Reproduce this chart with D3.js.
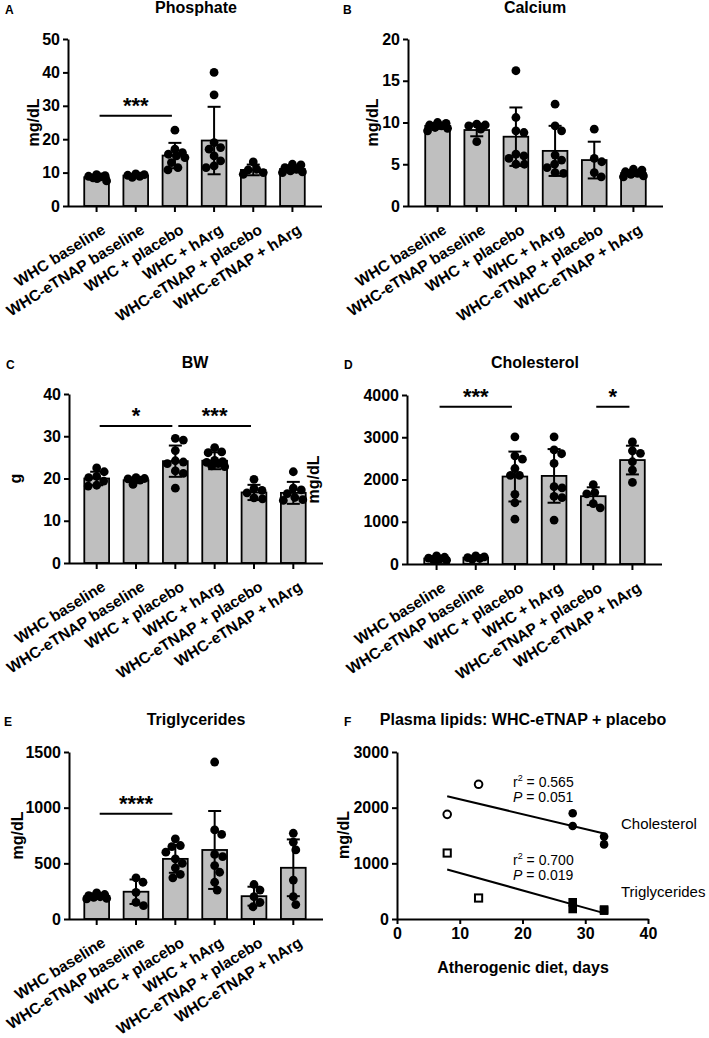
<!DOCTYPE html>
<html><head><meta charset="utf-8">
<script src="https://cdnjs.cloudflare.com/ajax/libs/d3/7.8.5/d3.min.js"></script>
<style>body{margin:0;background:#fff} svg{display:block} text{font-family:Arial,"Liberation Sans",Helvetica,sans-serif;fill:#000}</style>
</head><body><svg id="c" width="709" height="1038"></svg>
<script>
// ---------------- DATA ----------------
const groups = ["WHC baseline","WHC-eTNAP baseline","WHC + placebo","WHC + hArg","WHC-eTNAP + placebo","WHC-eTNAP + hArg"];

const phosMean = [8.6, 9.1, 15.1, 19.6, 10.8, 11.1];
const phosSD   = [0.6, 0.4, 3.8, 10.1, 1.6, 1.0];
const phosDots = [
  [9.4, 9.1, 8.9, 8.7, 8.4, 8.2, 7.5],
  [9.6, 9.4, 9.2, 8.9, 8.6],
  [22.7, 17.0, 16.0, 15.5, 15.0, 14.5, 13.0, 11.5, 10.8],
  [40.0, 33.3, 19.0, 17.5, 17.0, 15.0, 13.5, 12.0, 11.5],
  [13.2, 11.0, 10.8, 10.0, 9.5],
  [12.5, 12.3, 11.5, 11.0, 10.5, 10.2, 10.0]
];
const phosSig = [{a:0, b:2, v:27, label:"***"}];

const caMean = [9.6, 9.1, 8.3, 6.6, 5.5, 3.95];
const caSD   = [0.35, 0.75, 3.5, 3.0, 2.2, 0.35];
const caDots = [
  [10.0, 9.9, 9.7, 9.6, 9.4, 9.3, 9.0],
  [9.8, 9.7, 9.6, 9.2, 7.7],
  [16.2, 10.6, 9.0, 8.8, 6.2, 6.0, 5.7, 5.0, 5.0],
  [12.2, 9.6, 9.0, 6.1, 5.5, 5.0, 4.6, 4.0, 3.9],
  [9.2, 5.7, 5.3, 4.0, 3.5],
  [4.4, 4.3, 4.1, 3.9, 3.8, 3.6, 3.5]
];
const caSig = [];

const bwMean = [20.0, 19.6, 24.1, 24.2, 16.7, 16.6];
const bwSD   = [1.6, 0.6, 3.7, 2.0, 1.8, 2.6];
const bwDots = [
  [22.5, 21.6, 20.5, 20.2, 19.4, 18.4, 18.2],
  [20.2, 20.0, 19.9, 19.6, 18.6],
  [29.5, 29.1, 26.6, 24.2, 23.9, 23.5, 21.8, 21.2, 17.7],
  [27.3, 26.3, 26.1, 24.3, 24.0, 23.8, 23.5, 23.0, 22.8],
  [19.8, 17.6, 17.2, 16.6, 15.4, 15.2],
  [21.6, 17.7, 17.3, 16.4, 15.5, 15.0, 14.8]
];
const bwSig = [{a:0, b:2, v:32.4, label:"*"}, {a:2, b:4, v:32.4, label:"***"}];

const cholMean = [130, 150, 2070, 2085, 1605, 2460];
const cholSD   = [40, 30, 590, 635, 210, 340];
const cholDots = [
  [190, 160, 140, 120, 110, 100, 90],
  [190, 170, 150, 130, 115],
  [3010, 2560, 2480, 2260, 2100, 2100, 1650, 1450, 1060],
  [3010, 2700, 2610, 2380, 1830, 1800, 1600, 1570, 1040],
  [1880, 1690, 1660, 1430, 1330],
  [2890, 2680, 2620, 2420, 2220, 1930]
];
const cholSig = [{a:0, b:2, v:3720, label:"***"}, {a:4, b:5, v:3720, label:"*"}];

const trigMean = [205, 245, 540, 620, 205, 460];
const trigSD   = [25, 110, 125, 350, 85, 255];
const trigDots = [
  [235, 220, 210, 200, 195, 185, 180],
  [370, 330, 240, 150, 120],
  [720, 660, 650, 600, 540, 500, 460, 400, 370],
  [1410, 800, 760, 580, 560, 480, 420, 330, 260],
  [310, 260, 200, 150, 110],
  [770, 690, 620, 350, 200, 130]
];
const trigSig = [{a:0, b:2, v:945, label:"****"}];

// Panel F
const fDays     = [8, 13, 28, 28, 33, 33];
const fOpen     = [true, true, false, false, false, false];
const fChol     = [1880, 2420, 1900, 1670, 1480, 1340];
const fTrig     = [1185, 377, 300, 180, 170, 150];
const fStats    = [{r2:"0.565", p:"0.051", name:"Cholesterol"}, {r2:"0.700", p:"0.019", name:"Triglycerides"}];
const fXTicks   = [0, 10, 20, 30, 40];
const fYTicks   = [0, 1000, 2000, 3000];

// ---------------- DRAW ----------------
const svg = d3.select("#c");
const BAR_FILL = "#bfbfbf";
const fmt = d3.format("d");

function styleAxis(g){
  g.selectAll("path.domain").attr("stroke","#000").attr("stroke-width",2);
  g.selectAll(".tick line").attr("stroke","#000").attr("stroke-width",2);
  g.selectAll(".tick text").attr("font-size",16).attr("font-weight","bold")
    .attr("font-family",'Arial,"Liberation Sans",sans-serif').attr("fill","#000");
}

function swarm(vals, y, r, maxOff){
  const order = vals.map((v,i)=>i).sort((a,b)=>vals[b]-vals[a]);
  const placed = [], out = new Array(vals.length);
  const cands = [0];
  for (let k=1;k<=24;k++){ cands.push(k*0.5, -k*0.5); }
  for (const i of order){
    const py = y(vals[i]);
    let chosen = null, bestD = -1, bestDx = 0;
    for (const dx of cands){
      if (Math.abs(dx) > maxOff) continue;
      let minD = Infinity;
      for (const p of placed){ const d = Math.hypot(p.x-dx, p.y-py); if (d<minD) minD=d; }
      if (minD >= 2*r*0.92){ chosen = dx; break; }
      if (minD > bestD){ bestD = minD; bestDx = dx; }
    }
    if (chosen === null) chosen = bestDx;
    placed.push({x:chosen, y:py});
    out[i] = chosen;
  }
  return out;
}

function barPanel(c){
  const x = d3.scaleBand().domain(groups).range([c.bx0, c.x1]).paddingInner(0.37).paddingOuter(0.44);
  const y = d3.scaleLinear().domain([0, c.ymax]).range([c.y0, c.y1]);
  const g = svg.append("g");
  const bw = x.bandwidth();

  g.selectAll("rect.bar").data(groups).join("rect").attr("class","bar")
    .attr("x", d=>x(d)).attr("width", bw)
    .attr("y", (d,i)=>y(c.mean[i])).attr("height", (d,i)=>c.y0 - y(c.mean[i]))
    .attr("fill", BAR_FILL).attr("stroke","#000").attr("stroke-width",1.8);

  groups.forEach((grp,i)=>{
    const offs = swarm(c.dots[i], y, 4.4, bw/2 - 2);
    g.selectAll(null).data(c.dots[i]).join("circle")
      .attr("cx",(d,j)=>x(grp)+bw/2+offs[j]).attr("cy",d=>y(d)).attr("r",4.4).attr("fill","#000");
  });

  groups.forEach((grp,i)=>{
    const cx = x(grp)+bw/2, top = y(c.mean[i]+c.sd[i]), bot = y(Math.max(0,c.mean[i]-c.sd[i]));
    g.append("line").attr("x1",cx).attr("x2",cx).attr("y1",top).attr("y2",bot).attr("stroke","#000").attr("stroke-width",2);
    g.append("line").attr("x1",cx-6.5).attr("x2",cx+6.5).attr("y1",top).attr("y2",top).attr("stroke","#000").attr("stroke-width",2);
    g.append("line").attr("x1",cx-6.5).attr("x2",cx+6.5).attr("y1",bot).attr("y2",bot).attr("stroke","#000").attr("stroke-width",2);
  });

  const ya = g.append("g").attr("transform",`translate(${c.ax},0)`)
    .call(d3.axisLeft(y).tickValues(d3.range(0, c.ymax + c.step/2, c.step)).tickFormat(fmt).tickSize(5).tickSizeOuter(0).tickPadding(3));
  styleAxis(ya);
  const xa = g.append("g").attr("transform",`translate(0,${c.y0})`)
    .call(d3.axisBottom(x).tickSize(6).tickSizeOuter(0));
  xa.select("path.domain").attr("d", `M${c.ax},0.5H${c.x1}`);
  styleAxis(xa);
  xa.selectAll(".tick text").attr("font-size",15.5).attr("text-anchor","end").attr("y",0).attr("x",0).attr("dy","0.72em")
    .attr("transform","translate(4,17) rotate(-32)");

  c.sig.forEach(s=>{
    const xa_ = x(groups[s.a])+bw/2+3, xb_ = x(groups[s.b])+bw/2-3, yy = y(s.v);
    g.append("line").attr("x1",xa_).attr("x2",xb_).attr("y1",yy).attr("y2",yy).attr("stroke","#000").attr("stroke-width",2);
    g.append("text").attr("x",(xa_+xb_)/2).attr("y",yy-3).attr("text-anchor","middle")
      .attr("font-size",22).attr("font-weight","bold").text(s.label);
  });

  g.append("text").attr("x",c.tx).attr("y",c.ty).attr("text-anchor","middle").attr("font-size",16).attr("font-weight","bold").text(c.title);
  g.append("text").attr("x",c.lx).attr("y",c.ty+1).attr("font-size",12).attr("font-weight","bold").text(c.letter);
  g.append("text").attr("transform",`translate(${c.ylx},${(c.y0+c.y1)/2}) rotate(-90)`).attr("dy","0.35em")
    .attr("text-anchor","middle").attr("font-size",16).attr("font-weight","bold").text(c.ylab);
}

barPanel({bx0:67, ax:68, x1:322, y0:206, y1:39, ymax:50, step:10, mean:phosMean, sd:phosSD, dots:phosDots, sig:phosSig,
  title:"Phosphate", tx:196, ty:13, letter:"A", lx:5, ylab:"mg/dL", ylx:33});
barPanel({bx0:408, ax:408, x1:663, y0:206, y1:39, ymax:20, step:5, mean:caMean, sd:caSD, dots:caDots, sig:caSig,
  title:"Calcium", tx:535, ty:13, letter:"B", lx:343, ylab:"mg/dL", ylx:372});
barPanel({bx0:67, ax:69, x1:323, y0:563, y1:394, ymax:40, step:10, mean:bwMean, sd:bwSD, dots:bwDots, sig:bwSig,
  title:"BW", tx:195, ty:368, letter:"C", lx:6, ylab:"g", ylx:15});
barPanel({bx0:407, ax:407, x1:662, y0:564, y1:395, ymax:4000, step:1000, mean:cholMean, sd:cholSD, dots:cholDots, sig:cholSig,
  title:"Cholesterol", tx:535, ty:368, letter:"D", lx:344, ylab:"mg/dL", ylx:313});
barPanel({bx0:67, ax:69, x1:323, y0:919, y1:752, ymax:1500, step:500, mean:trigMean, sd:trigSD, dots:trigDots, sig:trigSig,
  title:"Triglycerides", tx:196, ty:725, letter:"E", lx:4, ylab:"mg/dL", ylx:17});

// ---------------- Panel F ----------------
(function(){
  const x = d3.scaleLinear().domain([0,40]).range([397,648]);
  const y = d3.scaleLinear().domain([0,3000]).range([919,752]);
  const g = svg.append("g");
  const ya = g.append("g").attr("transform","translate(397,0)")
    .call(d3.axisLeft(y).tickValues(fYTicks).tickFormat(fmt).tickSize(5).tickSizeOuter(0).tickPadding(3));
  styleAxis(ya);
  const xa = g.append("g").attr("transform","translate(0,919)")
    .call(d3.axisBottom(x).tickValues(fXTicks).tickFormat(fmt).tickSize(5).tickSizeOuter(0).tickPadding(4));
  styleAxis(xa);

  function reg(xs, ys){
    const mx = d3.mean(xs), my = d3.mean(ys);
    const sxy = d3.sum(xs.map((v,i)=>(v-mx)*(ys[i]-my))), sxx = d3.sum(xs.map(v=>(v-mx)*(v-mx)));
    const b = sxy/sxx, a = my - b*mx;
    const lo = d3.min(xs), hi = d3.max(xs);
    return [[lo, a+b*lo],[hi, a+b*hi]];
  }
  const line = d3.line().x(d=>x(d[0])).y(d=>y(d[1]));
  [fChol, fTrig].forEach(ys=>{
    g.append("path").attr("d", line(reg(fDays, ys))).attr("stroke","#000").attr("stroke-width",2).attr("fill","none");
  });

  g.selectAll(null).data(fDays).join("circle")
    .attr("cx",d=>x(d)).attr("cy",(d,i)=>y(fChol[i])).attr("r",(d,i)=>fOpen[i]?3.8:4.3)
    .attr("fill",(d,i)=>fOpen[i]?"#fff":"#000").attr("stroke","#000").attr("stroke-width",(d,i)=>fOpen[i]?2:0);
  g.selectAll(null).data(fDays).join("rect")
    .attr("x",(d,i)=>x(d)-(fOpen[i]?3.6:4.3)).attr("y",(d,i)=>y(fTrig[i])-(fOpen[i]?3.6:4.3))
    .attr("width",(d,i)=>fOpen[i]?7.2:8.6).attr("height",(d,i)=>fOpen[i]?7.2:8.6)
    .attr("fill",(d,i)=>fOpen[i]?"#fff":"#000").attr("stroke","#000").attr("stroke-width",(d,i)=>fOpen[i]?2:0);

  const stPos = [{x:513, y:787, ny:829}, {x:513, y:865, ny:897}];
  fStats.forEach((s,k)=>{
    const t = g.append("text").attr("x",stPos[k].x).attr("y",stPos[k].y).attr("font-size",14);
    t.append("tspan").text("r");
    t.append("tspan").attr("font-size",9).attr("dy",-6).text("2");
    t.append("tspan").attr("dy",6).text(" = " + s.r2);
    const p = g.append("text").attr("x",stPos[k].x).attr("y",stPos[k].y+15).attr("font-size",14);
    p.append("tspan").attr("font-style","italic").text("P");
    p.append("tspan").text(" = " + s.p);
    g.append("text").attr("x",621).attr("y",stPos[k].ny).attr("font-size",15).text(s.name);
  });

  g.append("text").attr("x",523).attr("y",725).attr("text-anchor","middle").attr("font-size",16).attr("font-weight","bold")
    .text("Plasma lipids: WHC-eTNAP + placebo");
  g.append("text").attr("x",344).attr("y",726).attr("font-size",12).attr("font-weight","bold").text("F");
  g.append("text").attr("transform",`translate(343,835) rotate(-90)`).attr("dy","0.35em")
    .attr("text-anchor","middle").attr("font-size",16).attr("font-weight","bold").text("mg/dL");
  g.append("text").attr("x",523).attr("y",973).attr("text-anchor","middle").attr("font-size",16).attr("font-weight","bold")
    .text("Atherogenic diet, days");
})();
</script>
</body></html>
